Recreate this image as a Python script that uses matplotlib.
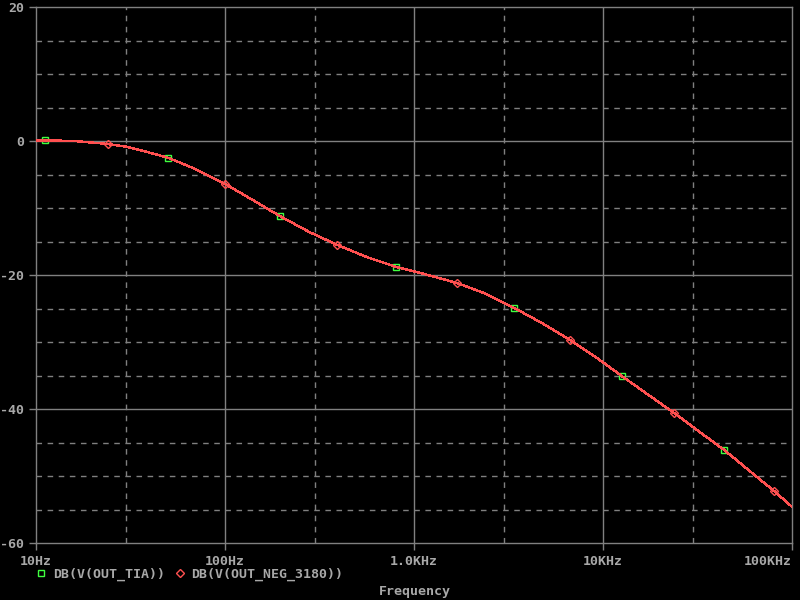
import numpy as np
import matplotlib
matplotlib.use("Agg")
import matplotlib.pyplot as plt
from matplotlib.lines import Line2D

# frequency (Hz) and magnitude (dB)
freq = [10, 11.2, 16, 24, 30, 36, 50, 70, 100, 140, 195, 280, 392, 560,
        803, 1150, 1690, 2400, 3380, 4700, 6690, 9200, 12600, 17000,
        23800, 32000, 43700, 60000, 80000, 100000]
db_tia = [0.1, 0.1, 0.0, -0.45, -0.85, -1.4, -2.5, -4.2, -6.4, -8.8,
          -11.2, -13.6, -15.5, -17.3, -18.8, -19.9, -21.2, -22.8, -24.9,
          -27.1, -29.7, -32.3, -35.1, -37.7, -40.6, -43.3, -46.1, -49.3,
          -52.2, -54.6]
db_neg = list(db_tia)

tia_marks = [1, 6, 10, 14, 18, 22, 26]
neg_marks = [3, 8, 12, 16, 20, 24, 28]

label_tia = "DB(V(OUT_TIA))"
label_neg = "DB(V(OUT_NEG_3180))"
x_ticks = [10, 100, 1000, 10000, 100000]
x_labels = ["10Hz", "100Hz", "1.0KHz", "10KHz", "100KHz"]
y_ticks = [20, 0, -20, -40, -60]

txt = "#a8a8a8"
grid = "#808080"
green = "#40ff40"
red = "#ff5050"
font = "DejaVu Sans Mono"

fig = plt.figure(figsize=(8, 6), dpi=100, facecolor="black")
ax = fig.add_axes([36 / 800, 57 / 600, 756 / 800, 536 / 600], facecolor="black")

ax.set_xscale("log")
ax.set_xlim(10, 100000)
ax.set_ylim(-60, 20)

# grid: solid at majors, dashed at 5 dB and 3x each decade
for y in np.arange(-55, 20, 5):
    if y % 20 == 0:
        ax.axhline(y, color=grid, lw=1, zorder=1)
    else:
        ax.axhline(y, color=grid, lw=1, ls=(0, (4, 4)), zorder=1)
for x in x_ticks[1:-1]:
    ax.axvline(x, color=grid, lw=1, zorder=1)
for x in [30, 300, 3000, 30000]:
    ax.axvline(x, color=grid, lw=1, ls=(0, (4, 4)), zorder=1)

ax.plot(freq, db_tia, color=green, lw=1, marker="s", markevery=tia_marks,
        ms=5, mfc="none", mec=green, mew=1, zorder=3)
ax.plot(freq, db_neg, color=red, lw=1, marker="D", markevery=neg_marks,
        ms=4, mfc="none", mec=red, mew=1, zorder=4, antialiased=False)

for s in ax.spines.values():
    s.set_color(grid)
    s.set_linewidth(1)

ax.set_xticks(x_ticks)
ax.set_xticklabels(x_labels)
ax.set_xticks([30, 300, 3000, 30000], minor=True)
ax.set_yticks(y_ticks)
ax.set_yticklabels([str(v) for v in y_ticks])
ax.tick_params(colors=grid, labelcolor=txt, labelsize=9.5, length=5, width=1)
ax.tick_params(axis="x", which="minor", length=4, labelbottom=False)
ax.tick_params(axis="y", which="minor", left=False)
for lab in ax.get_xticklabels() + ax.get_yticklabels():
    lab.set_family(font)
    lab.set_weight("bold")
ax.get_xticklabels()[-1].set_horizontalalignment("right")

handles = [
    Line2D([], [], ls="none", marker="s", ms=5, mfc="none", mec=green),
    Line2D([], [], ls="none", marker="D", ms=4, mfc="none", mec=red),
]
leg = fig.legend(handles, [label_tia, label_neg], loc="center left",
                 bbox_to_anchor=(0.03, 0.043), ncol=2, frameon=False,
                 handlelength=0.8, handletextpad=0.5, columnspacing=0.7,
                 prop={"family": font, "weight": "bold", "size": 9.5})
for t in leg.get_texts():
    t.set_color(txt)

fig.text(0.519, 0.014, "Frequency", color=txt, ha="center", va="center",
         family=font, weight="bold", fontsize=9.5)

fig.savefig("out.png", dpi=100, facecolor="black")
